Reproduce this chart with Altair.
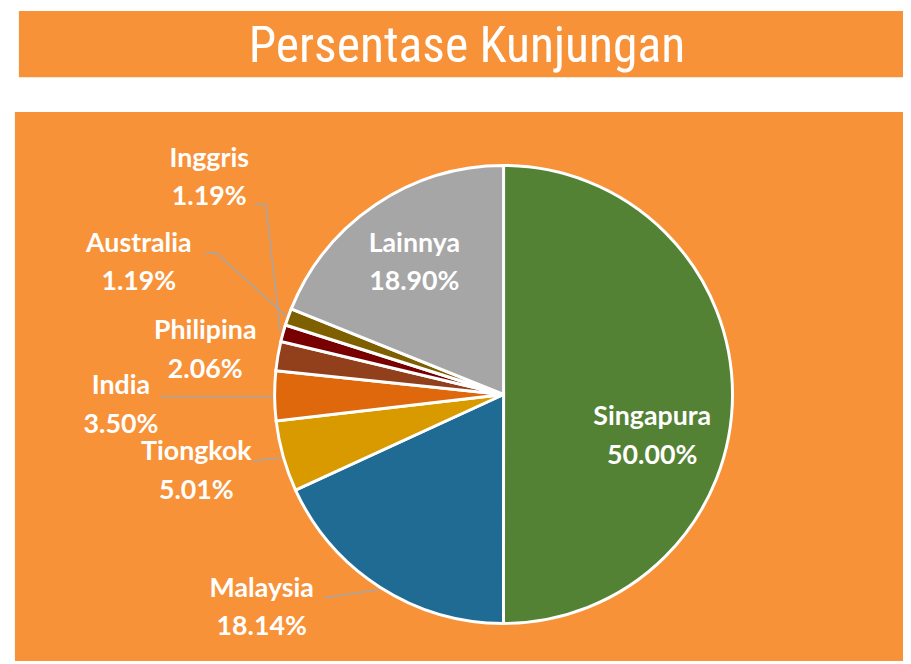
import altair as alt
import pandas as pd

# ---- data ----
countries = ["Singapura", "Malaysia", "Tiongkok", "India", "Philipina", "Australia", "Inggris", "Lainnya"]
shares = [50.00, 18.14, 5.01, 3.50, 2.06, 1.19, 1.19, 18.90]
colors = ["#548235", "#1F6B94", "#D99A00", "#DE680B", "#923F1C", "#780000", "#7F6000", "#A6A6A6"]
title_text = "Persentase Kunjungan"

# ---- layout (pixel positions of label first lines, leader lines) ----
label_x = [650, 256, 190, 114, 199, 132, 203, 410]
label_y = [410, 583, 445, 379, 323, 235, 149, 235]
leader_name = ["Inggris", "Inggris", "Inggris", "Australia", "Australia", "Australia",
               "India", "India", "Tiongkok", "Tiongkok", "Malaysia", "Malaysia"]
leader_step = [0, 1, 2, 0, 1, 2, 0, 1, 0, 1, 0, 1]
leader_x = [249, 260, 275, 199, 210, 281, 154, 267, 247, 275, 319, 374]
leader_y = [195, 195, 325, 244, 244, 308, 389, 389, 454, 451, 592, 584]

W, H = 903, 656
CX, CY, R = 500, 387, 231
ORANGE = "#F79239"

pie_df = pd.DataFrame({"country": countries, "share": shares, "order": list(range(len(countries)))})
lab_df = pd.DataFrame({"country": countries, "share": shares, "lx": label_x, "ly": label_y})
lead_df = pd.DataFrame({"country": leader_name, "step": leader_step, "x": leader_x, "y": leader_y})
one = pd.DataFrame({"a": [0]})

panel = alt.Chart(one).mark_rect(color=ORANGE).encode(
    x=alt.value(7), x2=alt.value(W), y=alt.value(102), y2=alt.value(H)
)
bar = alt.Chart(one).mark_rect(color=ORANGE).encode(
    x=alt.value(11), x2=alt.value(W), y=alt.value(0), y2=alt.value(67)
)
title = alt.Chart(pd.DataFrame({"t": [title_text]})).mark_text(
    font="Roboto Condensed, Roboto",
    fontSize=50, color="white", align="center", baseline="alphabetic"
).encode(x=alt.value(463), y=alt.value(52), text="t:N")

pie = alt.Chart(pie_df).mark_arc(radius=R, stroke="white", strokeWidth=3).encode(
    theta=alt.Theta("share:Q", stack=True),
    color=alt.Color("country:N", scale=alt.Scale(domain=countries, range=colors), legend=None),
    order=alt.Order("order:Q"),
    x=alt.value(CX), y=alt.value(CY),
)

leaders = alt.Chart(lead_df).mark_line(color="#A6A6A6", strokeWidth=1.5).encode(
    x=alt.X("x:Q", scale=None), y=alt.Y("y:Q", scale=None),
    detail="country:N", order="step:Q"
)

labels = alt.Chart(lab_df).transform_calculate(
    txt="datum.country + '\\n' + format(datum.share, '.2f') + '%'"
).mark_text(
    font="Lato", fontWeight="bold", fontSize=27, color="white",
    align="center", baseline="middle", lineBreak="\n", lineHeight=39
).encode(
    x=alt.X("lx:Q", scale=None), y=alt.Y("ly:Q", scale=None), text="txt:N"
)

chart = alt.layer(panel, bar, title, pie, leaders, labels).properties(
    width=W, height=H, padding=0, autosize=alt.AutoSizeParams(type="none"),
    background="white"
).configure_view(stroke=None)

chart.save("out.html", embed_options={"renderer": "svg", "actions": False})
